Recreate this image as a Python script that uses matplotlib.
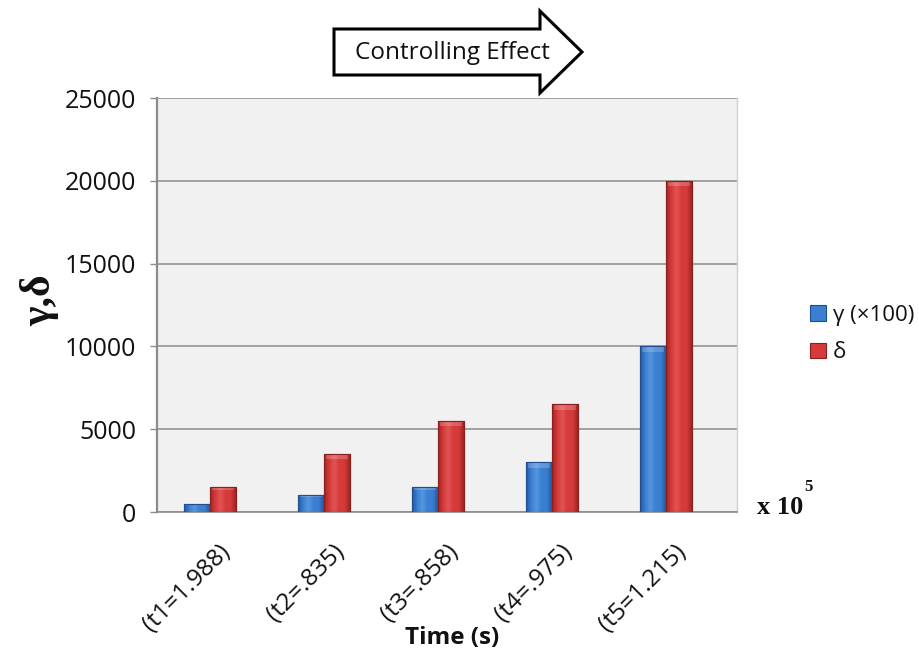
import numpy as np
import matplotlib
matplotlib.use("Agg")
import matplotlib.pyplot as plt
from matplotlib.patches import Polygon, Rectangle
from matplotlib.colors import LinearSegmentedColormap
from matplotlib.transforms import ScaledTranslation

# Chart data
categories = ["(t1=1.988)", "(t2=.835)", "(t3=.858)", "(t4=.975)", "(t5=1.215)"]
gamma_x100 = [500, 1000, 1500, 3000, 10000]
delta = [1500, 3500, 5500, 6500, 20000]
series_names = ["γ (×100)", "δ"]
yticks = [0, 5000, 10000, 15000, 20000, 25000]

W, H = 919, 655
fig = plt.figure(figsize=(W / 100, H / 100), dpi=100)
fig.patch.set_facecolor("white")

ax = fig.add_axes([157 / W, 1 - 512 / H, (737 - 157) / W, (512 - 98) / H])
ax.set_facecolor("#f1f1f1")

x = np.arange(len(categories))
bw = 0.228

blue_base, blue_edge = "#3a7fd2", "#1f4f8c"
red_base, red_edge = "#d63a3a", "#8a1f1f"

bars_g = ax.bar(x - bw / 2, gamma_x100, bw, color=blue_base, edgecolor=blue_edge,
                linewidth=0.8, zorder=3, label=series_names[0])
bars_d = ax.bar(x + bw / 2, delta, bw, color=red_base, edgecolor=red_edge,
                linewidth=0.8, zorder=3, label=series_names[1])


def shade_bars(bars, dark, mid, light):
    """Overlay a horizontal bevel gradient on each bar, clipped to the bar."""
    cmap = LinearSegmentedColormap.from_list("bevel", [dark, mid, light, mid, mid, dark])
    grad = np.linspace(0, 1, 64).reshape(1, -1)
    for b in bars:
        x0, y0 = b.get_x(), b.get_y()
        w, h = b.get_width(), b.get_height()
        im = ax.imshow(grad, cmap=cmap, aspect="auto",
                       extent=[x0, x0 + w, y0, y0 + h], zorder=3.5,
                       interpolation="bicubic")
        im.set_clip_path(b)
        # lighter top cap
        cap = min(h * 0.12, 320)
        ax.add_patch(Rectangle((x0 + w * 0.08, y0 + h - cap), w * 0.84, cap * 0.85,
                               facecolor="white", alpha=0.2, edgecolor="none",
                               zorder=3.6))
        ax.add_patch(Rectangle((x0, y0), w, h, facecolor="none",
                               edgecolor=b.get_edgecolor(), linewidth=0.8, zorder=3.7))


shade_bars(bars_g, "#27589e", "#3a7fd2", "#5696de")
shade_bars(bars_d, "#a02525", "#d63a3a", "#e25454")

ax.set_xlim(-0.465, 4.623)
ax.set_ylim(0, 25000)
ax.set_yticks(yticks)
ax.set_yticklabels([str(v) for v in yticks])
ax.yaxis.grid(True, color="#8c8c8c", linewidth=1.1, zorder=1)
ax.set_axisbelow(True)

ax.spines["top"].set_visible(False)
ax.spines["right"].set_color("#cfcfcf")
ax.spines["right"].set_linewidth(1.0)
ax.spines["left"].set_color("#8c8c8c")
ax.spines["left"].set_linewidth(1.6)
ax.spines["bottom"].set_color("#8c8c8c")
ax.spines["bottom"].set_linewidth(1.2)

ax.tick_params(axis="y", length=5, width=1.0, color="#8c8c8c", pad=10,
               labelsize=18, labelcolor="#111111")
ax.tick_params(axis="x", length=0, pad=0, labelsize=17.5, labelcolor="#111111")
for lbl in ax.get_yticklabels():
    lbl.set_fontfamily("Open Sans")

ax.set_xticks(x)
ax.set_xticklabels(categories, rotation=45, ha="right", va="top",
                   rotation_mode="anchor", family="Open Sans")
for lbl in ax.get_xticklabels():
    lbl.set_transform(lbl.get_transform() +
                      ScaledTranslation(0.08, -0.28, fig.dpi_scale_trans))

# Axis titles
fig.text(452 / W, 1 - 638 / H, "Time (s)", ha="center", va="center",
         fontsize=17.5, fontweight="bold", family="Open Sans", color="#111111")
fig.text(40 / W, 1 - 300 / H, "γ,δ", rotation=90, ha="center", va="center",
         fontsize=30, fontweight="bold", family="Liberation Serif", color="#111111")

# Scale note
fig.text(757 / W, 1 - 507 / H, "x 10", ha="left", va="center",
         fontsize=19, fontweight="bold", family="Liberation Serif", color="#111111")
fig.text(804 / W, 1 - 487 / H, "5", ha="left", va="center",
         fontsize=12, fontweight="bold", family="Liberation Serif", color="#111111")

# Legend
leg = fig.legend(handles=[bars_g, bars_d], labels=series_names,
                 loc="center left", bbox_to_anchor=(799 / W, 1 - 334 / H),
                 frameon=False, fontsize=16, handlelength=0.72, handleheight=0.72,
                 handletextpad=0.3, labelspacing=0.75, borderpad=0)
for t in leg.get_texts():
    t.set_fontfamily("Open Sans")
    t.set_color("#111111")

# Block arrow annotation
def px(xp, yp):
    return (xp / W, 1 - yp / H)

arrow_pts = [px(334, 29), px(540, 29), px(540, 11), px(582, 52),
             px(540, 93), px(540, 75), px(334, 75)]
fig.patches.append(Polygon(arrow_pts, closed=True, facecolor="white",
                           edgecolor="black", linewidth=2.2,
                           transform=fig.transFigure, figure=fig))
fig.text(452 / W, 1 - 53 / H, "Controlling Effect", ha="center", va="center",
         fontsize=17.5, family="Open Sans", color="#111111")

fig.savefig("out.png", dpi=100, facecolor="white")
